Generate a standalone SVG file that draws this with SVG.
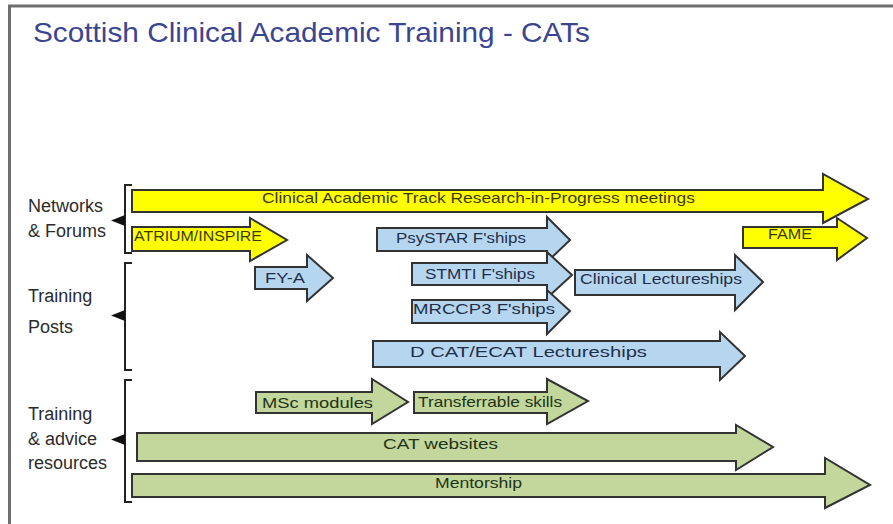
<svg xmlns="http://www.w3.org/2000/svg" width="893" height="524" viewBox="0 0 893 524">
<style>
.frame{fill:none;stroke:#6e6e6e;stroke-width:3}
.arr{stroke:#333333;stroke-width:2;stroke-linejoin:miter}
.y{fill:#ffff00}
.b{fill:#b6d6f0}
.g{fill:#c3d69b}
.t{font-family:"Liberation Sans",Arial,sans-serif;font-size:15px;fill:#2a2a2a}
.ty{fill:#3a3a10}
.tb{fill:#1f2f4a}
.tg{fill:#223318}
.lab{font-family:"Liberation Sans",Arial,sans-serif;font-size:18px;fill:#2b2b2b}
.br{fill:none;stroke:#222222;stroke-width:2}
.bt{fill:#111111}
.title{font-family:"Liberation Sans",Arial,sans-serif;font-size:28px;fill:#3b4590}
</style>
<rect width="893" height="524" fill="#ffffff"/>
<path class="frame" d="M9.5,524 V6 H893"/>
<text class="title" x="33" y="42" textLength="557" lengthAdjust="spacingAndGlyphs">Scottish Clinical Academic Training - CATs</text>

<g id="label-networks">
<text class="lab" x="28" y="212">Networks</text>
<text class="lab" x="28" y="237">&amp; Forums</text>
<path class="br" d="M132,185 H125 V253 H132"/>
<polygon class="bt" points="125,215 111,220.5 125,226"/>
</g>
<g id="label-posts">
<text class="lab" x="28" y="302">Training</text>
<text class="lab" x="28" y="333">Posts</text>
<path class="br" d="M132,263 H125 V370 H132"/>
<polygon class="bt" points="125,310 111,315.5 125,321"/>
</g>
<g id="label-resources">
<text class="lab" x="28" y="420">Training</text>
<text class="lab" x="28" y="445">&amp; advice</text>
<text class="lab" x="28" y="469">resources</text>
<path class="br" d="M132,380 H125 V502 H132"/>
<polygon class="bt" points="125,434 111,439.5 125,445"/>
</g>

<g id="connectors">
<g id="n-research">
<polygon class="arr y" points="132,190 823,190 823,174 868,199 823,223 823,212 132,212"/>
<text class="t ty" x="262" y="203" textLength="433" lengthAdjust="spacingAndGlyphs">Clinical Academic Track Research-in-Progress meetings</text>
</g>
<g id="n-atrium">
<polygon class="arr y" points="132,227 250,227 250,218 287,240 250,261 250,251 132,251"/>
<text class="t ty" x="134" y="241" textLength="128" lengthAdjust="spacingAndGlyphs">ATRIUM/INSPIRE</text>
</g>
<g id="n-fame">
<polygon class="arr y" points="743,227 837,227 837,218 867,238 837,260 837,248 743,248"/>
<text class="t ty" x="768" y="239" textLength="44" lengthAdjust="spacingAndGlyphs">FAME</text>
</g>
<g id="n-fya">
<polygon class="arr b" points="255,267 307,267 307,255 333,278 307,301 307,289 255,289"/>
<text class="t tb" x="265" y="283" textLength="40" lengthAdjust="spacingAndGlyphs">FY-A</text>
</g>
<g id="n-psystar">
<polygon class="arr b" points="377,228 547,228 547,217 570,240 547,262 547,251 377,251"/>
<text class="t tb" x="396" y="243" textLength="130" lengthAdjust="spacingAndGlyphs">PsySTAR F'ships</text>
</g>
<g id="n-stmti">
<polygon class="arr b" points="412,263 547,263 547,252 572,275 547,298 547,285 412,285"/>
<text class="t tb" x="425" y="279" textLength="110" lengthAdjust="spacingAndGlyphs">STMTI F'ships</text>
</g>
<g id="n-mrccp3">
<polygon class="arr b" points="412,300 547,300 547,290 570,311 547,334 547,323 412,323"/>
<text class="t tb" x="413" y="314" textLength="142" lengthAdjust="spacingAndGlyphs">MRCCP3 F'ships</text>
</g>
<g id="n-clinlect">
<polygon class="arr b" points="575,270 735,270 735,255 763,282 735,310 735,295 575,295"/>
<text class="t tb" x="580" y="284" textLength="162" lengthAdjust="spacingAndGlyphs">Clinical Lectureships</text>
</g>
<g id="n-dcat">
<polygon class="arr b" points="373,341 720,341 720,332 745,356 720,380 720,367 373,367"/>
<text class="t tb" x="410" y="357" textLength="237" lengthAdjust="spacingAndGlyphs">D CAT/ECAT Lectureships</text>
</g>
<g id="n-msc">
<polygon class="arr g" points="256,392 372,392 372,379 408,402 372,424 372,413 256,413"/>
<text class="t tg" x="262" y="408" textLength="111" lengthAdjust="spacingAndGlyphs">MSc modules</text>
</g>
<g id="n-transfer">
<polygon class="arr g" points="414,392 547,392 547,379 588,401 547,424 547,413 414,413"/>
<text class="t tg" x="418" y="407" textLength="144" lengthAdjust="spacingAndGlyphs">Transferrable skills</text>
</g>
<g id="n-websites">
<polygon class="arr g" points="137,433 736,433 736,425 773,447 736,470 736,461 137,461"/>
<text class="t tg" x="383" y="449" textLength="115" lengthAdjust="spacingAndGlyphs">CAT websites</text>
</g>
<g id="n-mentorship">
<polygon class="arr g" points="132,474 825,474 825,458 870,485 825,508 825,497 132,497"/>
<text class="t tg" x="435" y="488" textLength="87" lengthAdjust="spacingAndGlyphs">Mentorship</text>
</g>
</g>
</svg>
